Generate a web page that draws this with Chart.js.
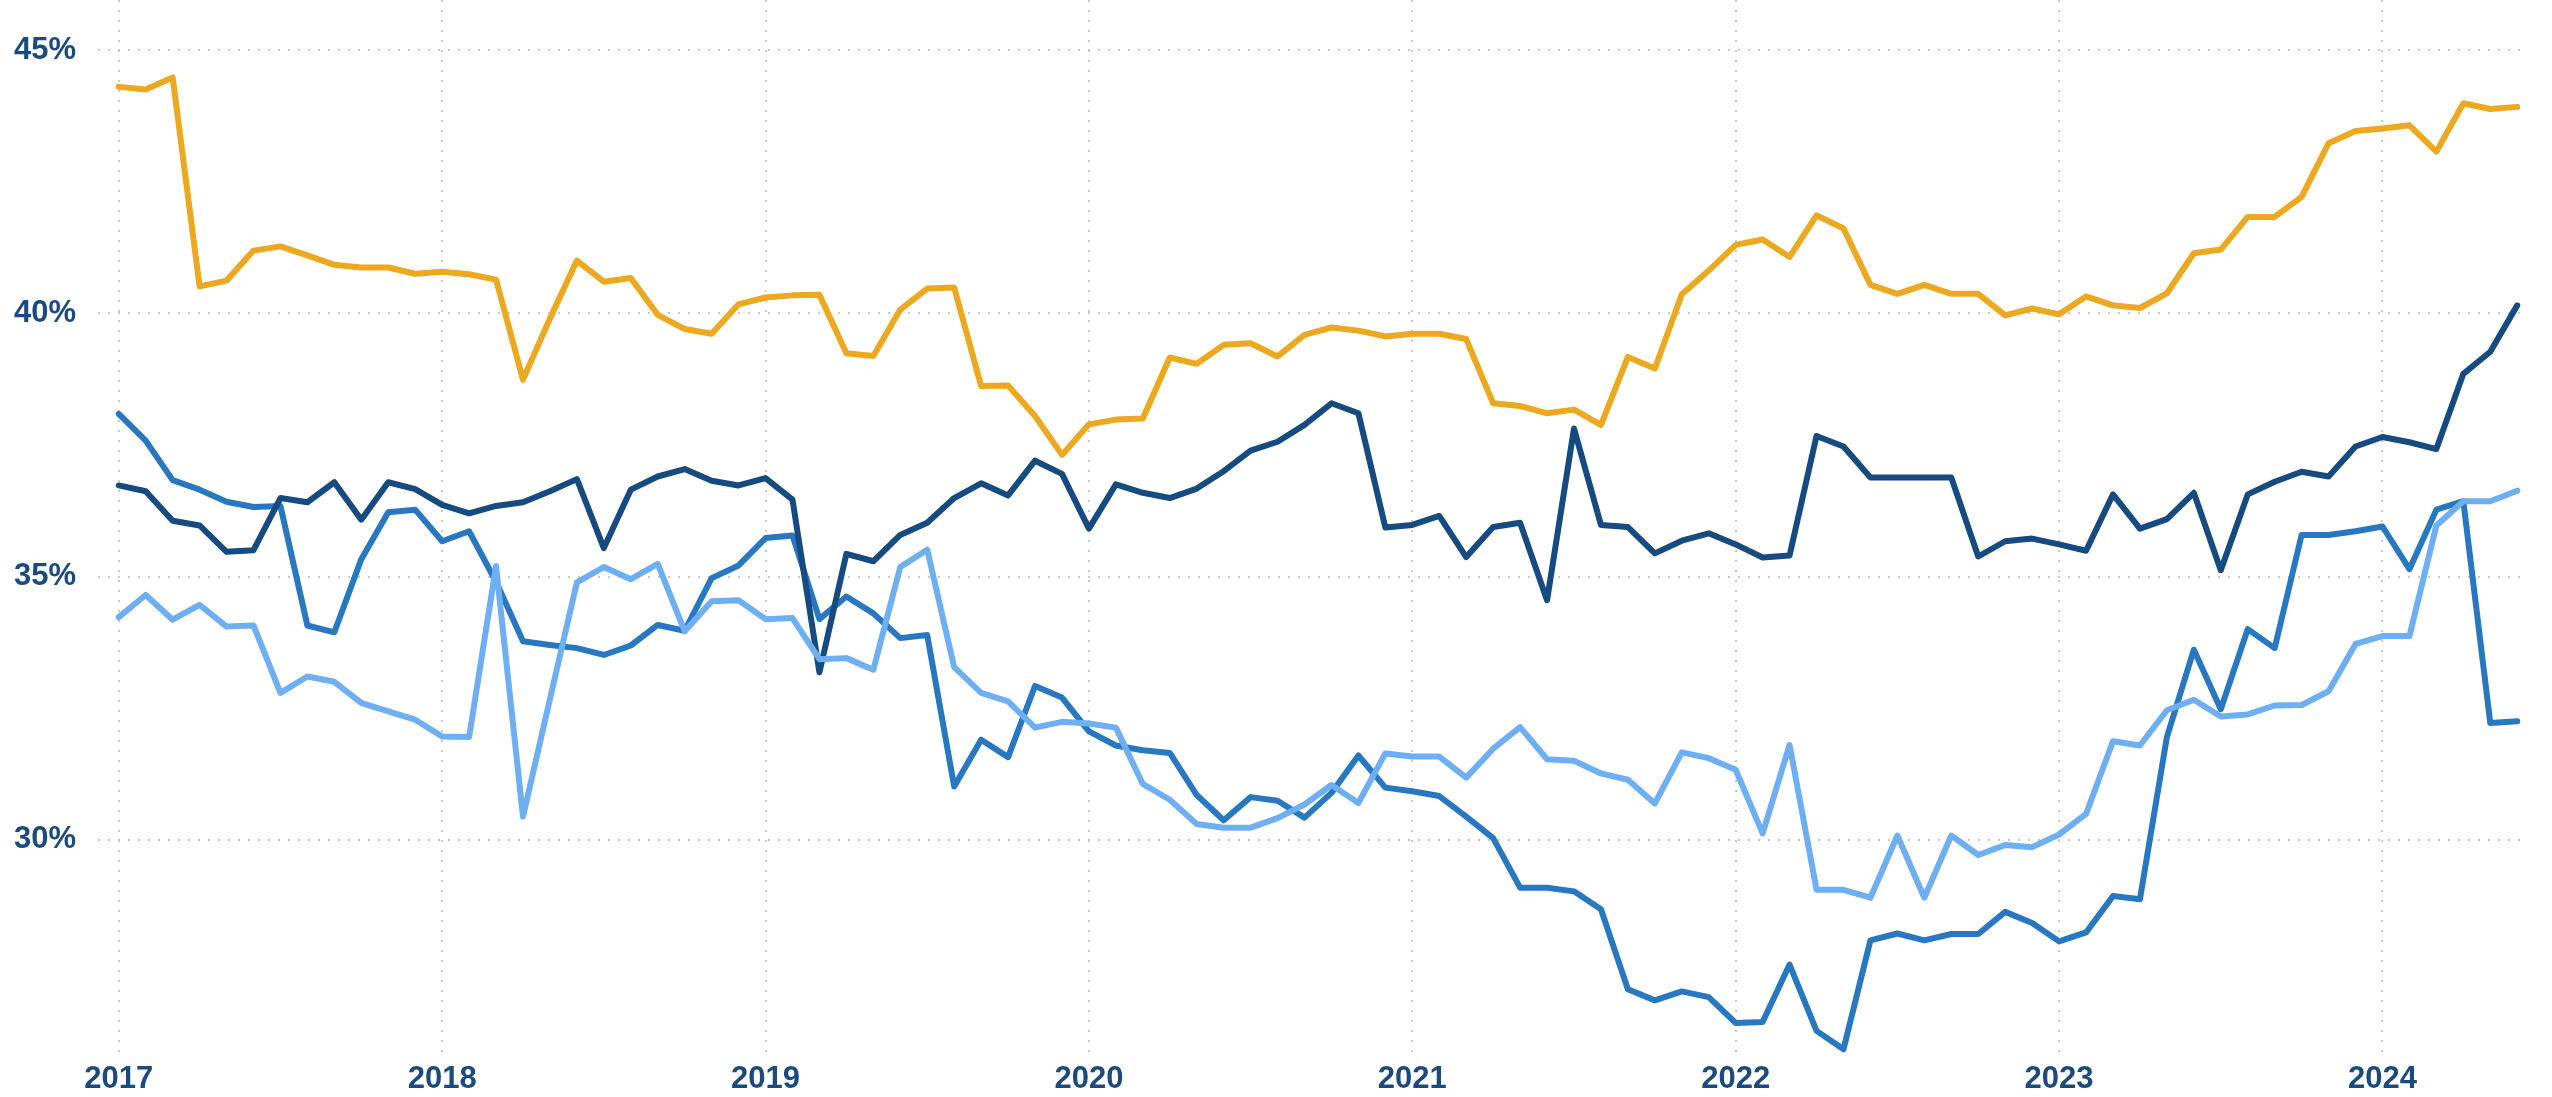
<!DOCTYPE html>
<html>
<head>
<meta charset="utf-8">
<title>Grafico</title>
<script src="https://cdn.jsdelivr.net/npm/chart.js@4.4.1/dist/chart.umd.min.js"></script>
<style>
    html, body { margin: 0; padding: 0; background: #ffffff; }
    .contenedor { position: relative; width: 2552px; height: 1097px; }
</style>
</head>
<body>
<div class="contenedor"><canvas id="LineasChart"></canvas></div>
<script>
//Datos mensuales, enero 2017 - junio 2024
var anios = ['2017', '2018', '2019', '2020', '2021', '2022', '2023', '2024'];
var marcasY = [30, 35, 40, 45];

var serieAmarilla = [
    44.30, 44.25, 44.48, 40.51, 40.62, 41.19, 41.27, 41.10, 40.92, 40.87, 40.87, 40.75,
    40.79, 40.74, 40.64, 38.74, 39.90, 41.00, 40.60, 40.67, 39.97, 39.70, 39.61, 40.17,
    40.30, 40.34, 40.35, 39.24, 39.19, 40.07, 40.47, 40.49, 38.62, 38.63, 38.05, 37.31,
    37.89, 37.98, 38.00, 39.16, 39.04, 39.40, 39.43, 39.18, 39.59, 39.73, 39.67, 39.56,
    39.61, 39.61, 39.51, 38.29, 38.24, 38.10, 38.17, 37.88, 39.17, 38.95, 40.36, 40.81,
    41.30, 41.40, 41.07, 41.86, 41.61, 40.54, 40.37, 40.54, 40.37, 40.37, 39.96, 40.09,
    39.98, 40.32, 40.15, 40.10, 40.38, 41.14, 41.21, 41.83, 41.83, 42.21, 43.23, 43.46,
    43.51, 43.57, 43.07, 43.99, 43.88, 43.92
];

var serieAzulOscuro = [
    36.73, 36.62, 36.06, 35.97, 35.47, 35.50, 36.49, 36.41, 36.79, 36.08, 36.79, 36.66,
    36.36, 36.20, 36.34, 36.41, 36.62, 36.85, 35.54, 36.65, 36.90, 37.04, 36.82, 36.73,
    36.87, 36.46, 33.18, 35.43, 35.29, 35.79, 36.02, 36.49, 36.77, 36.54, 37.20, 36.95,
    35.91, 36.75, 36.59, 36.49, 36.67, 37.00, 37.39, 37.56, 37.88, 38.29, 38.10, 35.93,
    35.98, 36.15, 35.37, 35.94, 36.02, 34.55, 37.81, 35.98, 35.94, 35.44, 35.68, 35.82,
    35.61, 35.36, 35.40, 37.67, 37.47, 36.88, 36.88, 36.88, 36.88, 35.38, 35.67, 35.72,
    35.61, 35.49, 36.56, 35.91, 36.09, 36.59, 35.12, 36.56, 36.80, 36.99, 36.90, 37.47,
    37.65, 37.55, 37.42, 38.85, 39.27, 40.15
];

var serieAzulMedio = [
    38.09, 37.58, 36.83, 36.65, 36.42, 36.32, 36.34, 34.07, 33.94, 35.33, 36.22, 36.27,
    35.67, 35.86, 34.90, 33.77, 33.70, 33.64, 33.51, 33.69, 34.08, 33.97, 34.97, 35.21,
    35.73, 35.78, 34.19, 34.62, 34.30, 33.83, 33.89, 31.01, 31.90, 31.57, 32.92, 32.70,
    32.06, 31.79, 31.70, 31.65, 30.85, 30.37, 30.81, 30.74, 30.42, 30.89, 31.60, 30.99,
    30.92, 30.83, 30.44, 30.03, 29.09, 29.09, 29.02, 28.68, 27.16, 26.95, 27.12, 27.01,
    26.52, 26.54, 27.63, 26.37, 26.02, 28.09, 28.22, 28.09, 28.21, 28.21, 28.63, 28.42,
    28.07, 28.24, 28.93, 28.87, 31.95, 33.61, 32.48, 34.00, 33.64, 35.79, 35.79, 35.86,
    35.95, 35.14, 36.27, 36.43, 32.22, 32.25
];

var serieAzulClaro = [
    34.23, 34.65, 34.18, 34.46, 34.05, 34.07, 32.79, 33.10, 33.00, 32.60, 32.44, 32.28,
    31.96, 31.95, 35.20, 30.44, 32.67, 34.89, 35.18, 34.95, 35.24, 33.96, 34.53, 34.55,
    34.19, 34.21, 33.43, 33.45, 33.23, 35.18, 35.51, 33.28, 32.79, 32.63, 32.13, 32.24,
    32.21, 32.13, 31.06, 30.76, 30.30, 30.23, 30.23, 30.41, 30.67, 31.04, 30.70, 31.64,
    31.58, 31.58, 31.18, 31.73, 32.14, 31.53, 31.50, 31.26, 31.14, 30.69, 31.66, 31.55,
    31.33, 30.12, 31.80, 29.05, 29.05, 28.90, 30.08, 28.90, 30.08, 29.71, 29.90, 29.86,
    30.10, 30.49, 31.87, 31.79, 32.46, 32.66, 32.34, 32.38, 32.55, 32.56, 32.82, 33.72,
    33.87, 33.87, 35.97, 36.43, 36.43, 36.63
];

//Grafico
document.addEventListener('DOMContentLoaded', function () {
    var colorTexto = '#1B4A7E';
    var colorGrid = '#c9c9c9';

    function puntos(serie) {
        return serie.map(function (v, i) { return { x: i, y: v }; });
    }

    function linea(serie, color, orden) {
        return {
            data: puntos(serie),
            borderColor: color,
            backgroundColor: color,
            borderWidth: 6,
            pointRadius: 0,
            tension: 0,
            borderJoinStyle: 'round',
            borderCapStyle: 'round',
            fill: false,
            order: orden
        };
    }

    var ctx = document.getElementById('LineasChart').getContext('2d');

    var lineasChart = new Chart(ctx, {
        type: 'line',
        data: {
            datasets: [
                linea(serieAmarilla, '#ECA81F', 3),
                linea(serieAzulOscuro, '#154B80', 1),
                linea(serieAzulMedio, '#2878C1', 2),
                linea(serieAzulClaro, '#6EAEF2', 0)
            ]
        },
        options: {
            responsive: true,
            maintainAspectRatio: false,
            devicePixelRatio: 1,
            animation: false,
            layout: {
                padding: { top: 0, right: 24, bottom: 0, left: 0 }
            },
            plugins: {
                legend: { display: false },
                tooltip: { enabled: false }
            },
            scales: {
                x: {
                    type: 'linear',
                    min: -0.77,
                    max: 89.4,
                    afterBuildTicks: function (axis) {
                        axis.ticks = anios.map(function (_, i) { return { value: i * 12 }; });
                    },
                    afterFit: function (scale) {
                        scale.height = 44;
                        scale.paddingLeft = 0;
                        scale.paddingRight = 0;
                    },
                    grid: {
                        color: colorGrid,
                        lineWidth: 2,
                        drawTicks: false
                    },
                    border: { display: false, dash: [2, 8] },
                    ticks: {
                        autoSkip: false,
                        maxRotation: 0,
                        padding: 8,
                        color: colorTexto,
                        font: { family: '"Liberation Sans", Arial, sans-serif', size: 31, weight: 'bold' },
                        callback: function (value) { return anios[Math.round(value / 12)]; }
                    }
                },
                y: {
                    min: 25.95,
                    max: 45.95,
                    afterBuildTicks: function (axis) {
                        axis.ticks = marcasY.map(function (v) { return { value: v }; });
                    },
                    afterFit: function (scale) {
                        scale.width = 98;
                        scale.paddingTop = 0;
                        scale.paddingBottom = 0;
                    },
                    grid: {
                        color: colorGrid,
                        lineWidth: 2,
                        drawTicks: false
                    },
                    border: { display: false, dash: [2, 8] },
                    ticks: {
                        padding: 22,
                        color: colorTexto,
                        font: { family: '"Liberation Sans", Arial, sans-serif', size: 31, weight: 'bold' },
                        callback: function (value) { return value + '%'; }
                    }
                }
            }
        }
    });
});
</script>
</body>
</html>
